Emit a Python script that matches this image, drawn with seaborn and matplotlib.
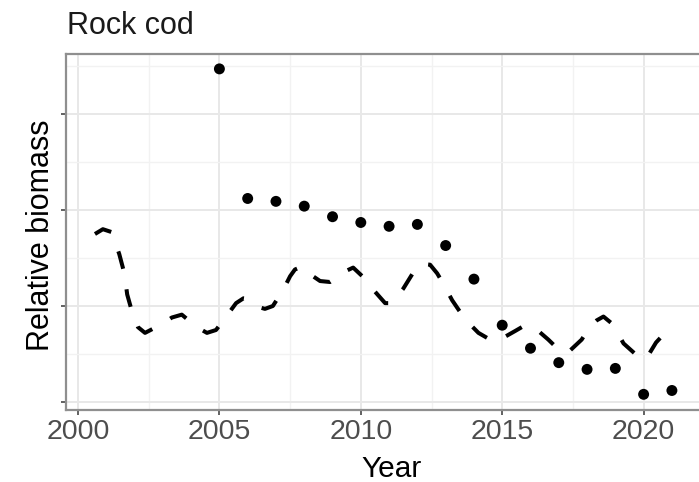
import matplotlib
matplotlib.use("Agg")
import matplotlib.pyplot as plt
import seaborn as sns
import pandas as pd

# Survey index (points) by year
survey_year = [2005, 2006, 2007, 2008, 2009, 2010, 2011, 2012, 2013,
               2014, 2015, 2016, 2017, 2018, 2019, 2020, 2021]
survey_index = [3.47, 2.12, 2.09, 2.04, 1.93, 1.87, 1.83, 1.85, 1.63,
                1.28, 0.80, 0.56, 0.41, 0.34, 0.35, 0.08, 0.12]

# Smoothed model trend (dashed line)
trend_year = [2000.60, 2000.88, 2001.19, 2001.46, 2001.64, 2001.74, 2001.93,
              2002.12, 2002.37, 2002.96, 2003.32, 2003.67, 2004.20, 2004.56,
              2004.88, 2005.29, 2005.59, 2005.85, 2006.08, 2006.38, 2006.61,
              2006.89, 2007.26, 2007.50, 2007.67, 2007.91, 2008.21, 2008.56,
              2008.91, 2009.44, 2009.73, 2010.09, 2010.50, 2010.86, 2011.09,
              2011.50, 2011.92, 2012.16, 2012.45, 2012.70, 2012.92, 2013.23,
              2013.69, 2014.16, 2014.57, 2014.86, 2015.46, 2015.81, 2016.16,
              2016.63, 2017.05, 2017.34, 2017.81, 2018.11, 2018.34, 2018.58,
              2018.91, 2019.29, 2019.82, 2020.09, 2020.44, 2020.88, 2020.98]
trend_index = [1.75, 1.80, 1.77, 1.54, 1.34, 1.12, 0.92,
               0.78, 0.72, 0.81, 0.88, 0.91, 0.78, 0.72,
               0.75, 0.91, 1.03, 1.08, 1.07, 0.99, 0.97,
               1.00, 1.17, 1.31, 1.38, 1.41, 1.33, 1.26,
               1.25, 1.36, 1.40, 1.30, 1.15, 1.03, 1.03,
               1.18, 1.38, 1.44, 1.43, 1.34, 1.23, 1.06,
               0.86, 0.72, 0.65, 0.64, 0.74, 0.80, 0.77,
               0.65, 0.53, 0.52, 0.65, 0.79, 0.85, 0.89,
               0.81, 0.61, 0.47, 0.45, 0.62, 0.76, 0.78]

x_ticks = [2000, 2005, 2010, 2015, 2020]
y_ticks = [0, 1, 2, 3]

survey = pd.DataFrame({"Year": survey_year, "Index": survey_index})
trend = pd.DataFrame({"Year": trend_year, "Index": trend_index})

sns.set_theme(style="white")
plt.rcParams["font.family"] = ["Liberation Sans", "DejaVu Sans"]
plt.rcParams["lines.scale_dashes"] = False

W, H = 699, 482
fig = plt.figure(figsize=(W / 100, H / 100), dpi=100)
fig.patch.set_facecolor("white")

# panel in pixel coordinates (extends past the right edge)
left, right, top, bottom = 66, 718, 54, 410
ax = fig.add_axes([left / W, 1 - bottom / H, (right - left) / W, (bottom - top) / H])

sns.lineplot(data=trend, x="Year", y="Index", ax=ax, color="black",
             linewidth=2.9, linestyle=(0, (13.0, 15.0)),
             dash_capstyle="butt", dash_joinstyle="round", sort=False)
sns.scatterplot(data=survey, x="Year", y="Index", ax=ax, color="black",
                s=62, edgecolor="none", zorder=4)

ax.set_xlim(1999.576, 2022.63)
ax.set_ylim(-0.0833, 3.625)

ax.set_xticks(x_ticks)
ax.set_xticklabels([str(t) for t in x_ticks])
ax.set_xticks([2002.5, 2007.5, 2012.5, 2017.5, 2022.5], minor=True)
ax.set_yticks(y_ticks)
ax.set_yticklabels([])
ax.set_yticks([0.5, 1.5, 2.5, 3.5], minor=True)

ax.grid(which="major", color="#e8e8e8", linewidth=1.4)
ax.grid(which="minor", color="#f2f2f2", linewidth=1.0)
ax.set_axisbelow(True)

for sp in ax.spines.values():
    sp.set_visible(True)
    sp.set_color("#8f8f8f")
    sp.set_linewidth(1.6)

ax.tick_params(axis="both", which="major", direction="out", length=3.5,
               width=1.3, color="#555555", labelsize=20.5, labelcolor="#4d4d4d",
               pad=3)
ax.tick_params(axis="both", which="minor", length=0)
ax.tick_params(axis="y", which="major", left=True, labelleft=False)
ax.tick_params(axis="x", which="major", bottom=True)

ax.set_xlabel("")
ax.set_ylabel("")

fig.text(left / W + 0.002, 1 - 34 / H, "Rock cod", fontsize=22,
         color="#1a1a1a", ha="left", va="baseline")
fig.text(392 / W, 1 - 477 / H, "Year", fontsize=21.5, color="black",
         ha="center", va="baseline")
fig.text(41 / W, 1 - 235 / H, "Relative biomass", fontsize=22, color="black",
         rotation=90, ha="center", va="center")

fig.savefig("out.png", dpi=100, facecolor="white")
